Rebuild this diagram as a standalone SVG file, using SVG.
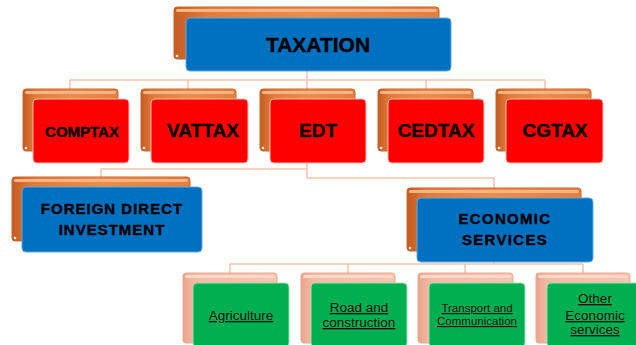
<svg xmlns="http://www.w3.org/2000/svg" width="636" height="345" viewBox="0 0 636 345">
  <defs>
    <linearGradient id="gOrange" x1="0" y1="0" x2="1" y2="0">
      <stop offset="0" stop-color="#C45C22"/>
      <stop offset="0.12" stop-color="#E27B38"/>
      <stop offset="0.5" stop-color="#EE8C4A"/>
      <stop offset="1" stop-color="#E47E3C"/>
    </linearGradient>
    <linearGradient id="gSalmon" x1="0" y1="0" x2="1" y2="0">
      <stop offset="0" stop-color="#E9A48C"/>
      <stop offset="0.12" stop-color="#F5B9A2"/>
      <stop offset="1" stop-color="#F8C4AE"/>
    </linearGradient>
    <style>
      .back { fill: url(#gOrange); stroke: #C9672D; stroke-width: 1; }
      .back.light { fill: url(#gSalmon); stroke: #EBA891; }
      .shine { fill: #F7B485; }
      .shine.light { fill: #FBD8C8; }
      .curl { fill: #FFF3E8; }
      .blue { fill: #0070C0; stroke: #5EA8E0; stroke-width: 1; }
      .red { fill: #FF0000; stroke: #F7B8B0; stroke-width: 1; }
      .green { fill: #00B050; stroke: #9BDDB4; stroke-width: 1; }
      .conn { fill: none; stroke: #F5C2AE; stroke-width: 1.5; }
      text { font-family: "Liberation Sans", Arial, sans-serif; fill: #000; text-anchor: middle; }
      .hb { font-weight: bold; stroke: #000; stroke-width: 0.4; }
      .ul { text-decoration: underline; fill: #111; }
    </style>
  </defs>

  <!-- connectors -->
  <g id="connectors" class="conn">
    <path d="M307 71 V80 M70 80 H545 M70 80 V89 M188 80 V89 M307 80 V89 M426 80 V89 M545 80 V89"/>
    <path d="M307 163 V178 M101 169 H307 M101 169 V177 M307 178 H494 V188"/>
    <path d="M494 262 V264 M230 264 H583 M230 264 V273 M348 264 V273 M465 264 V273 M583 264 V273"/>
  </g>

  <!-- root -->
  <g id="taxation">
    <rect class="back" x="174" y="7" width="265" height="52" rx="3"/>
    <rect class="shine" x="176" y="9" width="261" height="3" rx="1.5"/>
    <circle class="curl" cx="177" cy="56" r="1.3"/>
    <rect class="blue" x="186" y="18" width="265" height="53" rx="4"/>
    <text class="hb" x="318" y="52" font-size="21">TAXATION</text>
  </g>

  <!-- second level -->
  <g id="comptax">
    <rect class="back" x="23" y="89" width="95" height="62" rx="3"/>
    <rect class="shine" x="25" y="91" width="91" height="3" rx="1.5"/>
    <circle class="curl" cx="26" cy="148" r="1.3"/>
    <rect class="red" x="33" y="99" width="96" height="64" rx="4"/>
    <text class="hb" x="82" y="137" font-size="15">COMPTAX</text>
  </g>
  <g id="vattax">
    <rect class="back" x="141" y="89" width="95" height="62" rx="3"/>
    <rect class="shine" x="143" y="91" width="91" height="3" rx="1.5"/>
    <circle class="curl" cx="144" cy="148" r="1.3"/>
    <rect class="red" x="151" y="99" width="97" height="64" rx="4"/>
    <text class="hb" x="203" y="137" font-size="19">VATTAX</text>
  </g>
  <g id="edt">
    <rect class="back" x="260" y="89" width="95" height="62" rx="3"/>
    <rect class="shine" x="262" y="91" width="91" height="3" rx="1.5"/>
    <circle class="curl" cx="263" cy="148" r="1.3"/>
    <rect class="red" x="270" y="99" width="96" height="64" rx="4"/>
    <text class="hb" x="318" y="137" font-size="19">EDT</text>
  </g>
  <g id="cedtax">
    <rect class="back" x="378" y="89" width="95" height="62" rx="3"/>
    <rect class="shine" x="380" y="91" width="91" height="3" rx="1.5"/>
    <circle class="curl" cx="381" cy="148" r="1.3"/>
    <rect class="red" x="388" y="99" width="96" height="64" rx="4"/>
    <text class="hb" x="436" y="137" font-size="19">CEDTAX</text>
  </g>
  <g id="cgtax">
    <rect class="back" x="496" y="89" width="95" height="62" rx="3"/>
    <rect class="shine" x="498" y="91" width="91" height="3" rx="1.5"/>
    <circle class="curl" cx="499" cy="148" r="1.3"/>
    <rect class="red" x="506" y="99" width="97" height="64" rx="4"/>
    <text class="hb" x="555" y="137" font-size="19">CGTAX</text>
  </g>

  <!-- third level -->
  <g id="fdi">
    <rect class="back" x="12" y="177" width="178" height="64" rx="3"/>
    <rect class="shine" x="14" y="179" width="174" height="3" rx="1.5"/>
    <circle class="curl" cx="15" cy="238" r="1.3"/>
    <rect class="blue" x="22" y="187" width="180" height="65" rx="4"/>
    <text class="hb" x="112" y="214" font-size="15" letter-spacing="1">FOREIGN DIRECT</text>
    <text class="hb" x="112" y="235" font-size="15" letter-spacing="1">INVESTMENT</text>
  </g>
  <g id="economic">
    <rect class="back" x="407" y="188" width="174" height="63" rx="3"/>
    <rect class="shine" x="409" y="190" width="170" height="3" rx="1.5"/>
    <circle class="curl" cx="410" cy="248" r="1.3"/>
    <rect class="blue" x="417" y="198" width="176" height="64" rx="4"/>
    <text class="hb" x="505" y="224" font-size="15" letter-spacing="1.3">ECONOMIC</text>
    <text class="hb" x="505" y="245" font-size="15" letter-spacing="1.3">SERVICES</text>
  </g>

  <!-- fourth level -->
  <g id="agriculture">
    <rect class="back light" x="183" y="273" width="94" height="70" rx="3"/>
    <rect class="shine light" x="185" y="275" width="90" height="3" rx="1.5"/>
    <rect class="green" x="193" y="283" width="96" height="64" rx="4"/>
    <text class="ul" x="241" y="320" font-size="13.5">Agriculture</text>
  </g>
  <g id="road">
    <rect class="back light" x="301" y="273" width="94" height="70" rx="3"/>
    <rect class="shine light" x="303" y="275" width="90" height="3" rx="1.5"/>
    <rect class="green" x="311" y="283" width="96" height="64" rx="4"/>
    <text class="ul" x="359" y="312" font-size="13.5">Road and</text>
    <text class="ul" x="359" y="327" font-size="13.5">construction</text>
  </g>
  <g id="transport">
    <rect class="back light" x="418" y="273" width="95" height="70" rx="3"/>
    <rect class="shine light" x="420" y="275" width="91" height="3" rx="1.5"/>
    <rect class="green" x="429" y="283" width="96" height="64" rx="4"/>
    <text class="ul" x="477" y="312" font-size="11.5">Transport and</text>
    <text class="ul" x="477" y="325" font-size="11.5">Communication</text>
  </g>
  <g id="other">
    <rect class="back light" x="536" y="273" width="94" height="70" rx="3"/>
    <rect class="shine light" x="538" y="275" width="90" height="3" rx="1.5"/>
    <rect class="green" x="547" y="283" width="96" height="64" rx="4"/>
    <text class="ul" x="595" y="303" font-size="13.5">Other</text>
    <text class="ul" x="595" y="320" font-size="13.5">Economic</text>
    <text class="ul" x="595" y="334" font-size="13.5">services</text>
  </g>
</svg>
